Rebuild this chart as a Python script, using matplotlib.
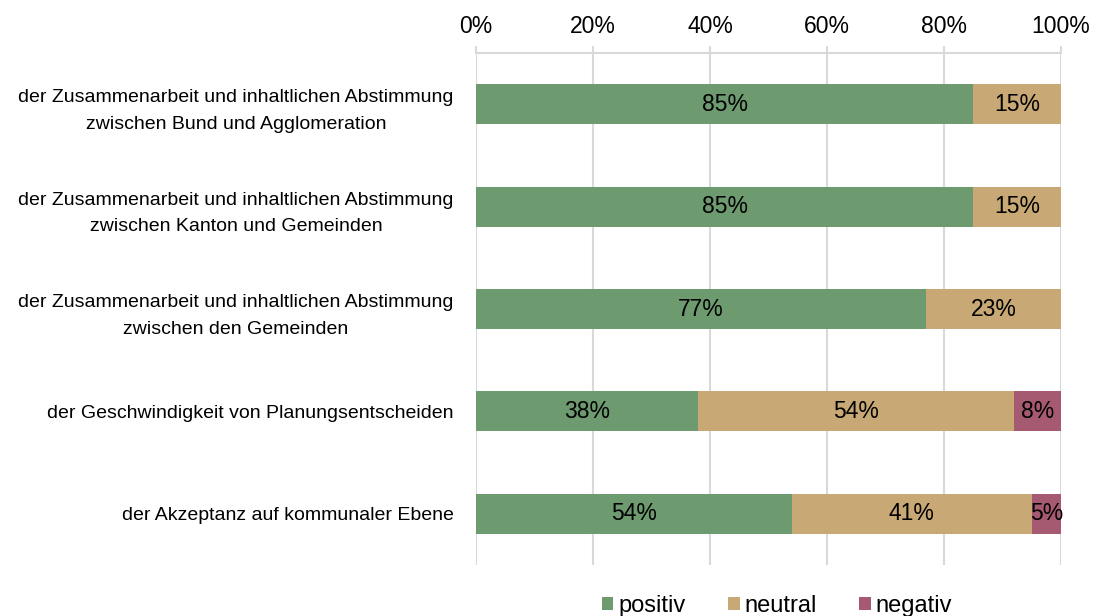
import matplotlib.pyplot as plt
import numpy as np

plt.rcParams['font.family'] = ['Liberation Sans', 'DejaVu Sans']

categories = [
    "der Zusammenarbeit und inhaltlichen Abstimmung\nzwischen Bund und Agglomeration",
    "der Zusammenarbeit und inhaltlichen Abstimmung\nzwischen Kanton und Gemeinden",
    "der Zusammenarbeit und inhaltlichen Abstimmung\nzwischen den Gemeinden",
    "der Geschwindigkeit von Planungsentscheiden",
    "der Akzeptanz auf kommunaler Ebene",
]
positiv = [85, 85, 77, 38, 54]
neutral = [15, 15, 23, 54, 41]
negativ = [0, 0, 0, 8, 5]

series = [("positiv", positiv, "#6e9a70"),
          ("neutral", neutral, "#c8a874"),
          ("negativ", negativ, "#a65a72")]

GRID = "#d9d9d9"

fig = plt.figure(figsize=(10.94, 6.16), dpi=100)
ax = fig.add_axes([476 / 1094, 1 - 565 / 616, 585 / 1094, 512 / 616])

y = np.arange(len(categories))
left = np.zeros(len(categories))
for name, vals, color in series:
    vals = np.array(vals, dtype=float)
    ax.barh(y, vals, left=left, height=0.39, color=color, label=name, zorder=3)
    for yi, l, v in zip(y, left, vals):
        if v > 0:
            ax.text(l + v / 2, yi, f"{int(v)}%", ha="center", va="center",
                    fontsize=16.5, color="black", zorder=4)
    left += vals

ax.set_xlim(0, 100)
ax.set_ylim(len(categories) - 0.5, -0.5)
ax.set_xticks(np.arange(0, 101, 20))
ax.set_xticklabels([f"{t}%" for t in range(0, 101, 20)], fontsize=16.5)
ax.xaxis.tick_top()
ax.tick_params(axis="x", length=5, width=1.5, color=GRID, pad=6)
ax.set_yticks(y)
ax.set_yticklabels(categories, fontsize=14, multialignment="center",
                   linespacing=1.75)
ax.tick_params(axis="y", length=0, pad=16)
ax.grid(axis="x", color=GRID, linewidth=1.5, zorder=0)
ax.set_axisbelow(True)
for s in ax.spines.values():
    s.set_visible(False)
ax.spines["top"].set_visible(True)
ax.spines["top"].set_color(GRID)
ax.spines["top"].set_linewidth(1.5)

fig.legend(loc="center", bbox_to_anchor=(777 / 1094, 1 - 606 / 616), ncol=3,
           frameon=False, fontsize=17, handlelength=0.5, handleheight=0.5,
           handletextpad=0.2, columnspacing=1.8, borderpad=0)

fig.savefig("out.png", dpi=100)
